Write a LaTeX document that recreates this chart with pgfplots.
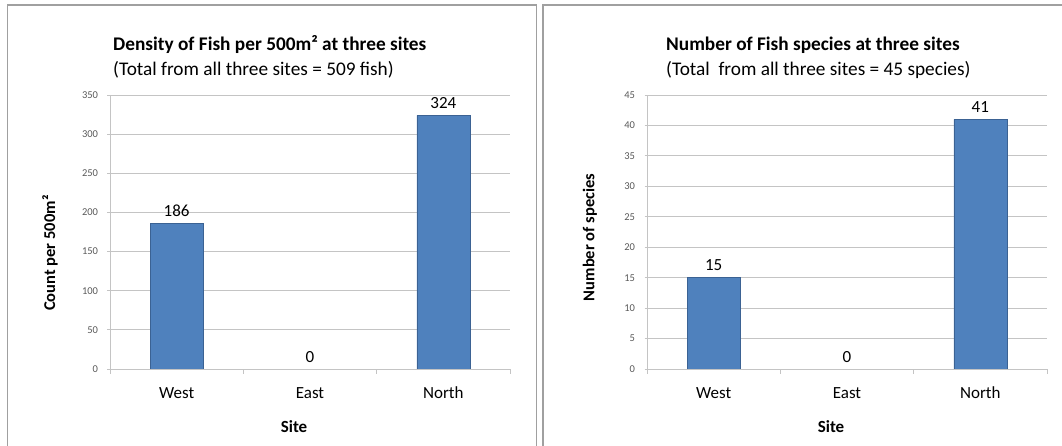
\documentclass[border=0pt]{standalone}
\usepackage{fontspec}
\setmainfont{Carlito}
\usepackage{pgfplots}
\pgfplotsset{compat=1.18}
\definecolor{barblue}{HTML}{4F81BD}
\definecolor{baredge}{HTML}{3B6293}
\definecolor{gridgray}{HTML}{C4C4C4}
\definecolor{framegray}{HTML}{A0A0A0}
\definecolor{ticktext}{HTML}{595959}
\pgfplotsset{
  /pgf/number format/assume math mode=true,
  fishaxis/.style={
    scale only axis, width=400pt, height=274pt, anchor=south west,
    xmin=-0.5, xmax=2.5, ymin=0,
    xtick={-0.5,0.5,1.5,2.5}, xticklabels={},
    extra x ticks={0,1,2},
    extra x tick labels={West,East,North},
    extra x tick style={major tick length=0pt, tick style={draw=none},
      xticklabel style={font=\fontsize{17}{20}\selectfont, text=black, anchor=base},
      xticklabel shift=30pt},
    xtick align=outside, ytick align=outside,
    major tick length=5pt,
    axis x line=bottom, axis y line=left,
    axis line style={-, draw=gridgray, line width=0.8pt},
    tick style={draw=gridgray, line width=0.8pt},
    ymajorgrids, grid style={draw=gridgray, line width=0.8pt},
    ybar, bar width=53pt, bar shift=0pt,
    yticklabel style={font=\fontsize{10.5}{12}\selectfont, text=ticktext},
    yticklabel shift=6pt,
    xlabel={Site},
    xlabel style={font=\bfseries\fontsize{17}{20}\selectfont, at={(axis description cs:0.46,-0.21)}, anchor=center},
    ylabel style={font=\bfseries\fontsize{16.5}{19}\selectfont, anchor=center},
    nodes near coords,
    every node near coord/.append style={font=\fontsize{17}{20}\selectfont, text=black, yshift=3pt},
  }
}
\begin{document}
\begin{tikzpicture}
\useasboundingbox (0,0) rectangle (1062pt,446pt);
\clip (0,0) rectangle (1062pt,446pt);
\draw[framegray, line width=1.2pt] (7.5pt,-10pt) rectangle (536.5pt,441pt);
\draw[framegray, line width=1.2pt] (543pt,-10pt) rectangle (1075pt,441pt);

\begin{axis}[fishaxis, at={(110pt,77pt)},
  ymax=350, ytick={0,50,...,350},
  ylabel={Count per 500m²},
  ylabel style={at={(axis description cs:-0.15,0.423)}}]
\addplot[fill=barblue, draw=baredge, line width=0.6pt] coordinates {(0,186) (2,324)};
\addplot[draw=none, fill=none] coordinates {(1,0)};
\end{axis}

\begin{axis}[fishaxis, at={(647pt,77pt)},
  ymax=45, ytick={0,5,...,45},
  ylabel={Number of species},
  ylabel style={at={(axis description cs:-0.1425,0.48)}}]
\addplot[fill=barblue, draw=baredge, line width=0.6pt] coordinates {(0,15) (2,41)};
\addplot[draw=none, fill=none] coordinates {(1,0)};
\end{axis}

\node[anchor=base west, inner sep=0pt, font=\bfseries\fontsize{19.3}{23}\selectfont] at (113pt,395pt) {Density of Fish per 500m² at three sites};
\node[anchor=base west, inner sep=0pt, font=\fontsize{19.3}{23}\selectfont] at (113pt,370pt) {(Total from all three sites = 509 fish)};
\node[anchor=base west, inner sep=0pt, font=\bfseries\fontsize{19.3}{23}\selectfont] at (666pt,395pt) {Number of Fish species at three sites};
\node[anchor=base west, inner sep=0pt, font=\fontsize{19.3}{23}\selectfont] at (666pt,370pt) {(Total~ from all three sites = 45 species)};
\end{tikzpicture}
\end{document}
